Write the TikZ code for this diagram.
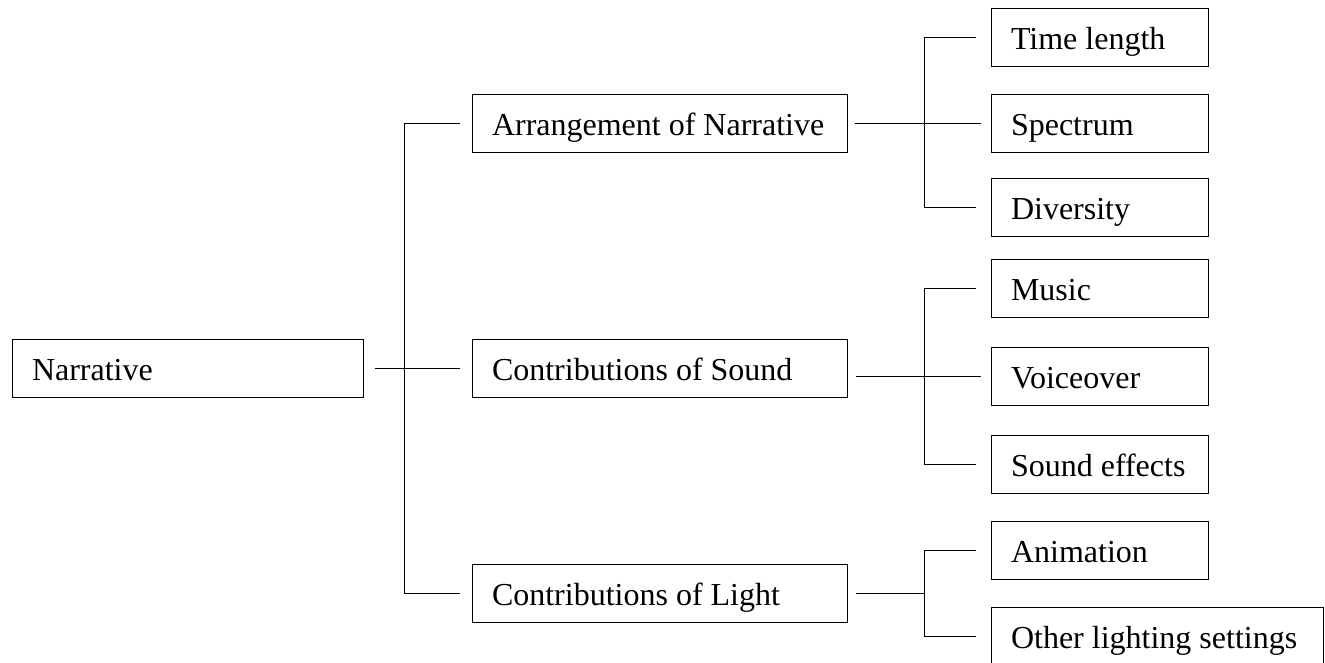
\documentclass[tikz,border=0pt]{standalone}
\usepackage{fontspec}
\setmainfont{Liberation Serif}
\usetikzlibrary{calc}
\tikzset{
  box/.style={draw, line width=1pt, rectangle, inner xsep=20pt, inner ysep=0pt,
    minimum height=58pt, text height=28pt, text depth=4pt,
    font=\fontsize{32}{38}\selectfont, anchor=center},
  link/.style={line width=1pt}
}
\newcommand{\lbox}[2]{\makebox[#1][l]{#2}}
\begin{document}
\begin{tikzpicture}[x=1pt,y=-1pt]
\useasboundingbox (0,0) rectangle (1325,662);
% main
\node[box] (nar) at (187.5,368) {\lbox{311pt}{Narrative}};
% second level
\node[box] (arr) at (659.5,123) {\lbox{335pt}{Arrangement of Narrative}};
\node[box] (snd) at (659.5,368) {\lbox{335pt}{Contributions of Sound}};
\node[box] (lgt) at (659.5,593) {\lbox{335pt}{Contributions of Light}};
% third level
\node[box] (time) at (1099.5,37) {\lbox{177pt}{Time length}};
\node[box] (spec) at (1099.5,123) {\lbox{177pt}{Spectrum}};
\node[box] (div) at (1099.5,207) {\lbox{177pt}{Diversity}};
\node[box] (mus) at (1099.5,288) {\lbox{177pt}{Music}};
\node[box] (voice) at (1099.5,376) {\lbox{177pt}{Voiceover}};
\node[box] (sfx) at (1099.5,464) {\lbox{177pt}{Sound effects}};
\node[box] (anim) at (1099.5,550) {\lbox{177pt}{Animation}};
\node[box] (other) at (1157,636) {\lbox{292pt}{Other lighting settings}};
% trunk coordinates
\coordinate (t1) at (404,0);
\coordinate (t2) at (924,0);
% first fork
\draw[link] ($(nar.east)+(11,0)$) -- ($(snd.west)+(-12,0)$);
\draw[link] ($(arr.west)+(-12,0)$) -- (arr.west -| t1) -- (lgt.west -| t1) -- ($(lgt.west)+(-12,0)$);
% arrangement fork
\draw[link] ($(arr.east)+(7,0)$) -- ($(spec.west)+(-10,0)$);
\draw[link] ($(time.west)+(-15,0)$) -- (time.west -| t2) -- (div.west -| t2) -- ($(div.west)+(-15,0)$);
% sound fork
\draw[link] (snd.east |- voice.west) ++(8,0) -- ($(voice.west)+(-10,0)$);
\draw[link] ($(mus.west)+(-15,0)$) -- (mus.west -| t2) -- (sfx.west -| t2) -- ($(sfx.west)+(-15,0)$);
% light fork
\draw[link] ($(lgt.east)+(8,0)$) -- (lgt.east -| t2);
\draw[link] ($(anim.west)+(-15,0)$) -- (anim.west -| t2) -- (other.west -| t2) -- ($(other.west)+(-15,0)$);
\end{tikzpicture}
\end{document}
